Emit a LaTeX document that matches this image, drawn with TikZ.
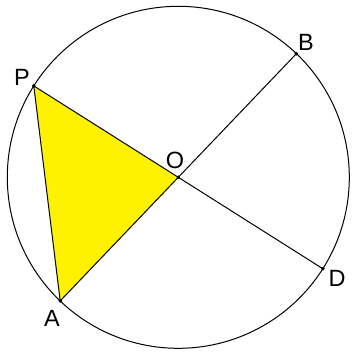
\documentclass[tikz,border=0pt]{standalone}
\usepackage{fontspec}
\setmainfont{Liberation Sans}
\begin{document}
\begin{tikzpicture}[x=1pt,y=-1pt,
  edge/.style={draw=black,line width=1pt},
  pt/.style={circle,fill=black,inner sep=0pt,minimum size=3.5pt},
  lbl/.style={font=\fontsize{23.5}{26}\selectfont,inner sep=0pt}]
\useasboundingbox (0,0) rectangle (352,353);
\node[pt] (O) at (178.3,177.3) {};
\node[pt] (P) at (33.8,85.9) {};
\node[pt] (A) at (60.2,300.9) {};
\node[pt] (B) at (296.4,53.7) {};
\node[pt] (D) at (322.8,268.7) {};
\fill[yellow] (P.center) -- (O.center) -- (A.center) -- cycle;
\draw[edge] (O.center) circle[radius=171];
\draw[edge] (A.center) -- (B.center);
\draw[edge] (P.center) -- (D.center);
\draw[edge] (P.center) -- (A.center);
\node[pt] at (O) {};
\node[pt] at (P) {};
\node[pt] at (A) {};
\node[pt] at (B) {};
\node[pt] at (D) {};
\node[lbl] (lP) at (22,77) {P};
\node[lbl] (lO) at (175,160) {O};
\node[lbl] (lA) at (52,318) {A};
\node[lbl] (lB) at (306,42) {B};
\node[lbl] (lD) at (337,278) {D};
\end{tikzpicture}
\end{document}
